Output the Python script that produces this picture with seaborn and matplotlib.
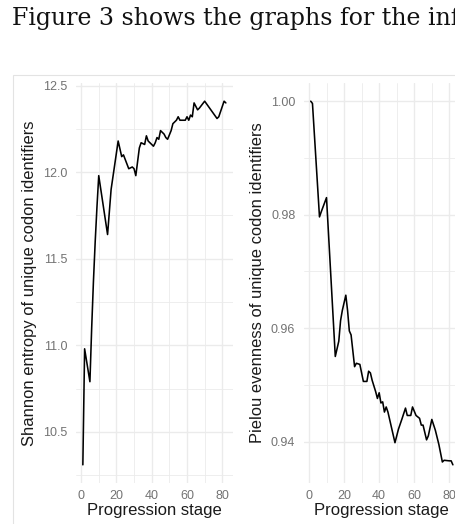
import numpy as np
import pandas as pd
import matplotlib
matplotlib.use("Agg")
import matplotlib.pyplot as plt
import seaborn as sns
from matplotlib.ticker import MultipleLocator, FormatStrFormatter
from matplotlib.patches import Rectangle

# ========== Data ==========
entropy_stage = [1, 2, 5, 6, 7, 8, 9, 10, 15, 17, 19, 21, 23, 24, 27, 29, 30, 31,
                 33, 34, 36, 37, 38, 40, 41, 42, 43, 44, 45, 47, 48, 49, 51, 52,
                 54, 55, 56, 59, 60, 61, 62, 63, 64, 66, 67, 70, 77, 78, 81, 82]
entropy_value = [10.31, 10.98, 10.79, 11.10, 11.37, 11.60, 11.80, 11.98, 11.64,
                 11.90, 12.04, 12.18, 12.09, 12.10, 12.02, 12.03, 12.02, 11.98,
                 12.14, 12.17, 12.16, 12.21, 12.18, 12.16, 12.15, 12.17, 12.20,
                 12.19, 12.24, 12.22, 12.20, 12.19, 12.24, 12.28, 12.30, 12.32,
                 12.30, 12.30, 12.32, 12.30, 12.33, 12.32, 12.40, 12.36, 12.37,
                 12.41, 12.31, 12.32, 12.41, 12.40]

evenness_stage = [1, 2, 6, 7, 10, 15, 17, 18, 19, 21, 22, 23, 24, 26, 27, 29, 31,
                  33, 34, 35, 36, 38, 39, 40, 41, 42, 43, 44, 45, 47, 49, 51, 53,
                  55, 56, 58, 59, 61, 63, 64, 65, 67, 68, 70, 72, 74, 76, 77, 80,
                  81, 82]
evenness_value = [1.0000, 0.9996, 0.9796, 0.9805, 0.9830, 0.9550, 0.9577, 0.9613,
                  0.9631, 0.9658, 0.9631, 0.9595, 0.9588, 0.9532, 0.9538, 0.9536,
                  0.9506, 0.9506, 0.9524, 0.9521, 0.9508, 0.9488, 0.9476, 0.9486,
                  0.9468, 0.9470, 0.9452, 0.9461, 0.9452, 0.9425, 0.9398, 0.9422,
                  0.9440, 0.9459, 0.9446, 0.9446, 0.9461, 0.9446, 0.9441, 0.9429,
                  0.9429, 0.9403, 0.9410, 0.9439, 0.9420, 0.9395, 0.9364, 0.9367,
                  0.9366, 0.9366, 0.9359]

W, H = 455, 524

sns.set_theme(style="white")
plt.rcParams['font.family'] = ['Liberation Sans', 'DejaVu Sans']

fig = plt.figure(figsize=(W / 100, H / 100), dpi=100)

# page text above the figure (runs off the right edge, as in the crop)
fig.text(12 / W, 1 - 25 / H, "Figure 3 shows the graphs for the inf",
         family=['DejaVu Serif'], fontsize=17.0, color='#111111',
         ha='left', va='baseline')

# light frame of the embedded figure
fig.patches.append(Rectangle((13 / W, -0.1), 1.2, (1 - 75 / H) + 0.1,
                             transform=fig.transFigure, fill=False,
                             edgecolor='#e3e3e3', linewidth=0.8))


def px_axes(x0, x1, y0, y1):
    return fig.add_axes([x0 / W, 1 - y1 / H, (x1 - x0) / W, (y1 - y0) / H])


def style_panel(ax, ylab, ymaj, yfmt):
    ax.set_facecolor('none')
    for s in ax.spines.values():
        s.set_visible(False)
    ax.xaxis.set_major_locator(MultipleLocator(20))
    ax.xaxis.set_minor_locator(MultipleLocator(10))
    ax.yaxis.set_major_locator(MultipleLocator(ymaj))
    ax.yaxis.set_minor_locator(MultipleLocator(ymaj / 2))
    ax.yaxis.set_major_formatter(FormatStrFormatter(yfmt))
    ax.grid(which='major', color='#ebebeb', linewidth=1.0)
    ax.grid(which='minor', color='#ebebeb', linewidth=0.6)
    ax.set_axisbelow(True)
    ax.tick_params(which='both', length=0)
    ax.tick_params(axis='y', pad=6, labelsize=9, labelcolor='#737373')
    ax.tick_params(axis='x', pad=5, labelsize=9, labelcolor='#737373')
    ax.set_xlabel("Progression stage", fontsize=12, color='#1a1a1a', labelpad=1)
    ax.set_ylabel(ylab, fontsize=11.9, color='#1a1a1a', labelpad=4)


ax1 = px_axes(75.7, 233, 83, 483)
sns.lineplot(x=entropy_stage, y=entropy_value, ax=ax1, color='black', linewidth=1.15)
style_panel(ax1, "Shannon entropy of unique codon identifiers", 0.5, '%.1f')

ax2 = px_axes(303.6, 460, 83, 483)
sns.lineplot(x=evenness_stage, y=evenness_value, ax=ax2, color='black', linewidth=1.15)
style_panel(ax2, "Pielou evenness of unique codon identifiers", 0.02, '%.2f')

for ax in (ax1, ax2):
    ax.margins(x=0.05, y=0.05)

fig.savefig("out.png", dpi=100)
